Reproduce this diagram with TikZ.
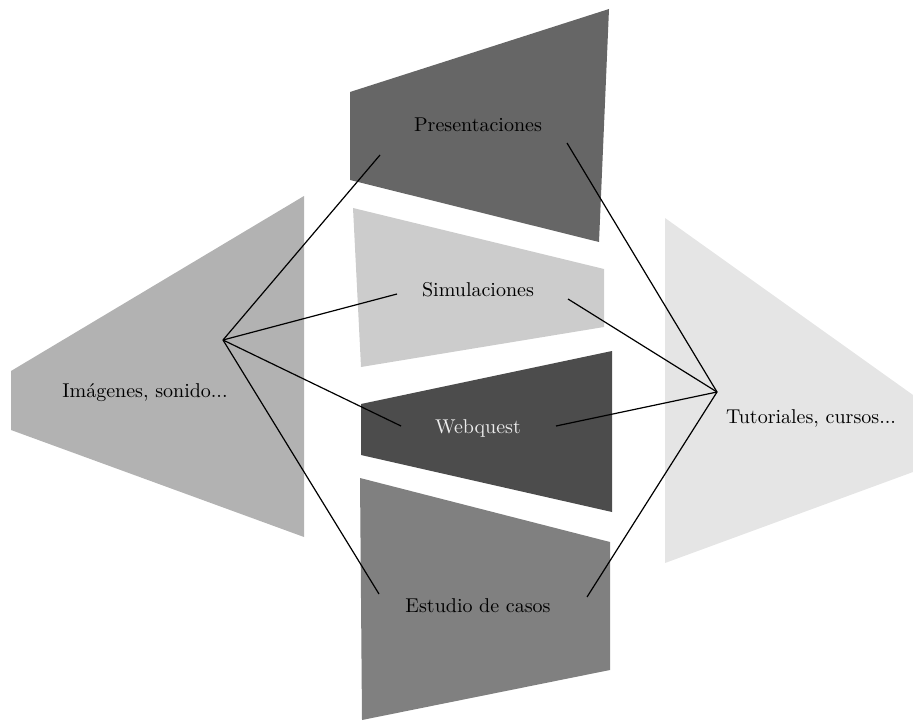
\documentclass[tikz,border=0pt]{standalone}
\usetikzlibrary{positioning}
\begin{document}
\begin{tikzpicture}[x=0.5pt, y=-0.5pt, every node/.style={font=\normalsize, inner sep=1pt},
  link/.style={line width=0.6pt, black}]
  \useasboundingbox (0,0) rectangle (913,721);

  % Side panels
  \fill[black!30] (304,196) -- (304,537) -- (11,430) -- (11,371) -- cycle;
  \fill[black!10] (665,218) -- (913,395) -- (913,472) -- (665,563) -- cycle;

  % Centre panels
  \fill[black!60] (350,92) -- (609,9) -- (599,242) -- (350,180) -- cycle;
  \fill[black!20] (353,208) -- (604,269) -- (604,327) -- (361,367) -- cycle;
  \fill[black!70] (361,404) -- (612,351) -- (612,512) -- (361,455) -- cycle;
  \fill[black!50] (360,478) -- (610,542) -- (610,670) -- (362,720) -- cycle;

  % Labels
  \node (pres) at (478,125) {Presentaciones};
  \node (simu) at (478,290) {Simulaciones};
  \node[text=white!92!black] (webq) at (478,428) {Webquest};
  \node (estu) at (478,606) {Estudio de casos};
  \node (imag) at (145,393) {Imágenes, sonido...};
  \node (tuto) at (811,418) {Tutoriales, cursos...};

  % Hubs and line ends
  \coordinate (hubL) at (223,340);
  \coordinate (hubR) at (717,392);
  \coordinate (presL) at (380,155);
  \coordinate (presR) at (567,143);
  \coordinate (simuL) at (397,294);
  \coordinate (simuR) at (568,299);
  \coordinate (webqL) at (401,426);
  \coordinate (webqR) at (556,426);
  \coordinate (estuL) at (379,594);
  \coordinate (estuR) at (587,597);

  % Connectors
  \foreach \p in {pres,simu,webq,estu}{
    \draw[link] (hubL) -- (\p L);
    \draw[link] (hubR) -- (\p R);
  }
\end{tikzpicture}
\end{document}
